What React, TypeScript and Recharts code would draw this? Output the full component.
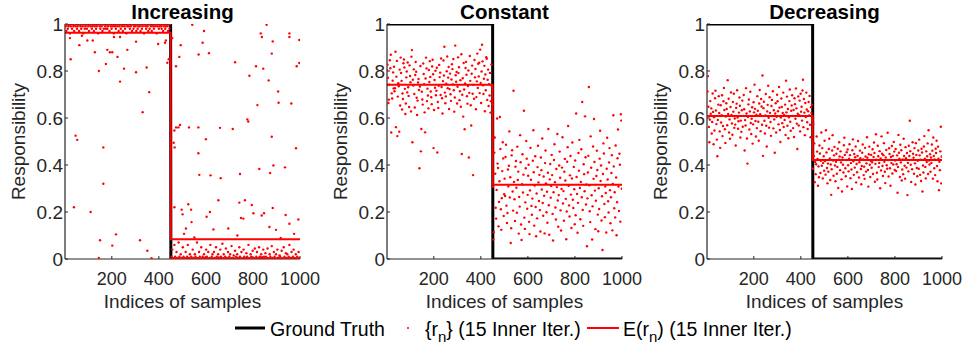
import { ComposedChart, Line, Scatter, XAxis, YAxis } from "recharts";

const xTicks = [200, 400, 600, 800, 1000];
const yTicks = [0, 0.2, 0.4, 0.6, 0.8, 1];
const panelTitles = ["Increasing", "Constant", "Decreasing"];
const lastSampleOfFirstSegment = 450;
const groundTruthLevels = [1, 0];

// E(r_n) level of each segment
const increasingMeans = [0.963, 0.084];
const constantMeans = [0.742, 0.316];
const decreasingMeans = [0.608, 0.421];

// Increasing: dense bands, one value for every 3rd sample (x = 1, 4, 7 ... / 451, 454 ...)
const increasingBefore = [
  1, 0.99, 0.97, 1, 0.98, 0.99, 1, 0.96, 0.99, 1, 0.98, 1, 0.99, 0.97, 1,
  0.99, 1, 0.98, 0.99, 1, 0.97, 1, 0.99, 0.98, 1, 0.99, 0.96, 1, 0.98, 0.99,
  1, 0.98, 1, 0.99, 0.97, 1, 0.99, 1, 0.98, 0.99, 1, 0.97, 0.99, 1, 0.98,
  0.99, 1, 0.96, 1, 0.99, 0.98, 1, 0.99, 0.97, 1, 0.98, 1, 0.99, 0.98, 1,
  0.98, 0.99, 1, 0.97, 1, 0.99, 0.98, 1, 0.99, 0.96, 1, 0.99, 0.98, 1, 0.99,
  1, 0.97, 0.99, 1, 0.98, 1, 0.99, 0.97, 1, 0.99, 0.98, 1, 0.96, 0.99, 1,
  0.99, 1, 0.98, 0.99, 1, 0.97, 1, 0.98, 0.99, 1, 0.99, 0.97, 1, 0.98, 0.99,
  1, 0.99, 0.97, 1, 0.98, 0.99, 1, 0.96, 1, 0.99, 0.98, 1, 0.99, 0.97, 1,
  0.98, 1, 0.99, 0.97, 1, 0.99, 0.98, 1, 0.99, 1, 0.96, 0.99, 1, 0.98, 0.99,
  1, 0.99, 0.98, 1, 0.97, 0.99, 1, 0.98, 0.99, 1, 0.99, 0.97, 1, 0.98, 1,
];
const increasingAfter = [
  0, 0.01, 0.04, 0, 0.002, 0.06, 0.01, 0, 0.03, 0.005, 0, 0.07, 0.01, 0, 0.02,
  0.005, 0, 0.05, 0.01, 0, 0.003, 0.03, 0, 0.01, 0.06, 0, 0.004, 0.02, 0, 0.01,
  0, 0.04, 0.005, 0, 0.02, 0.01, 0, 0.07, 0.003, 0, 0.03, 0.01, 0, 0.05, 0.002,
  0.01, 0, 0.02, 0.006, 0, 0.04, 0.01, 0, 0.03, 0, 0.005, 0.06, 0, 0.01, 0.02,
  0, 0.03, 0.004, 0, 0.05, 0.01, 0, 0.02, 0.007, 0, 0.04, 0.01, 0, 0.065, 0.003,
  0.02, 0, 0.01, 0.045, 0, 0.005, 0.03, 0, 0.01, 0.02, 0, 0.055, 0.004, 0, 0.015,
  0, 0.035, 0.01, 0, 0.02, 0.006, 0, 0.05, 0.01, 0, 0.03, 0.002, 0, 0.04, 0.01,
  0.005, 0, 0.025, 0.01, 0, 0.06, 0.003, 0, 0.02, 0.01, 0, 0.035, 0.005, 0, 0.045,
  0, 0.01, 0.03, 0, 0.004, 0.05, 0.01, 0, 0.02, 0.008, 0, 0.04, 0.01, 0, 0.025,
  0.01, 0, 0.045, 0.003, 0, 0.02, 0.01, 0, 0.055, 0.005, 0, 0.03, 0.01, 0, 0.02,
  0, 0.04, 0.006, 0, 0.015, 0.01, 0, 0.035, 0.002, 0, 0.05, 0.01, 0, 0.025, 0.004,
  0.02, 0, 0.01, 0.06, 0, 0.005, 0.03, 0, 0.01, 0.04, 0, 0.003, 0.02, 0, 0.01,
  0, 0.03, 0.005,
];
// Increasing: scattered samples away from the bands, [sample, r_n]
const increasingStrays: [number, number][] = [
  [22, 0.94], [25, 0.85], [39, 0.22], [46, 0.525], [53, 0.507], [62, 0.91], [73, 0.95],
  [96, 0.93], [110, 0.2], [119, 0.93], [128, 0.88], [145, 0.8], [145, 0.005], [150, 0.08],
  [164, 0.475], [164, 0.32], [175, 0.83], [181, 0.89], [192, 0.88], [202, 0.88], [202, 0.057],
  [209, 0.945], [218, 0.105], [224, 0.86], [235, 0.755], [235, 0.945], [252, 0.81], [266, 0.89],
  [303, 0.795], [303, 0.925], [320, 0.08], [331, 0.625], [348, 0.815], [351, 0.035], [359, 0.71],
  [369, 0.003], [397, 0.915], [426, 0.92], [430, 0.93], [436, 0.835], [442, 0.85],
  [457, 0.94], [463, 0.495], [466, 0.547], [466, 0.22], [467, 0.475], [473, 0.56], [473, 0.82],
  [483, 0.56], [487, 0.86], [490, 0.57], [493, 0.91], [497, 0.21], [501, 0.19], [507, 0.107],
  [515, 0.13], [525, 0.233], [528, 0.56], [537, 0.21], [539, 0.157], [542, 0.997], [551, 0.092],
  [568, 0.56], [568, 0.45], [569, 0.87], [572, 0.358], [586, 0.92], [592, 0.97], [600, 0.51],
  [603, 0.18], [613, 0.876], [617, 0.2], [620, 0.356], [632, 0.126], [653, 0.25], [660, 0.558],
  [663, 0.344], [695, 0.13], [714, 0.553], [724, 0.837], [734, 0.1], [742, 0.24], [745, 0.362],
  [749, 0.175], [759, 0.172], [766, 0.25], [776, 0.594], [780, 0.585], [785, 0.78], [795, 0.23],
  [802, 0.195], [813, 0.82], [819, 0.655], [827, 0.383], [833, 0.96], [837, 0.185], [838, 0.945],
  [844, 0.81], [847, 0.195], [858, 0.997], [867, 0.76], [870, 0.136], [873, 0.366], [880, 0.52],
  [880, 0.874], [884, 0.926], [884, 0.217], [887, 0.398], [898, 0.124], [907, 0.713], [909, 0.665],
  [918, 0.09], [936, 0.39], [939, 0.187], [955, 0.96], [955, 0.945], [955, 0.15], [963, 0.662],
  [975, 0.107], [983, 0.471], [986, 0.82], [993, 0.168], [997, 0.932], [997, 0.834],
];

// Constant: every 2nd sample (x = 1, 3 ... 449 / 451, 453 ... 999)
const constantBefore = [
  0.803, 0.827, 0.771, 0.664, 0.678, 0.742, 0.846, 0.812, 0.869, 0.538, 0.705, 0.683, 0.759, 0.794, 0.726,
  0.818, 0.714, 0.727, 0.882, 0.561, 0.776, 0.843, 0.523, 0.691, 0.748, 0.735, 0.542, 0.806, 0.653, 0.857,
  0.792, 0.758, 0.636, 0.704, 0.681, 0.833, 0.849, 0.815, 0.724, 0.617, 0.662, 0.773, 0.798, 0.709, 0.836,
  0.731, 0.694, 0.647, 0.824, 0.779, 0.752, 0.628, 0.861, 0.889, 0.497, 0.763, 0.738, 0.807, 0.702, 0.645,
  0.783, 0.838, 0.797, 0.686, 0.613, 0.674, 0.751, 0.766, 0.719, 0.386, 0.734, 0.821, 0.458, 0.553, 0.712,
  0.679, 0.657, 0.832, 0.787, 0.744, 0.624, 0.539, 0.768, 0.857, 0.811, 0.672, 0.725, 0.696, 0.641, 0.804,
  0.753, 0.842, 0.775, 0.713, 0.688, 0.659, 0.819, 0.848, 0.786, 0.472, 0.634, 0.762, 0.729, 0.801, 0.697,
  0.716, 0.814, 0.453, 0.668, 0.643, 0.737, 0.826, 0.774, 0.793, 0.698, 0.853, 0.732, 0.684, 0.619, 0.757,
  0.845, 0.781, 0.903, 0.708, 0.663, 0.692, 0.746, 0.799, 0.862, 0.727, 0.772, 0.817, 0.638, 0.723, 0.789,
  0.701, 0.673, 0.764, 0.829, 0.808, 0.743, 0.851, 0.718, 0.627, 0.687, 0.908, 0.782, 0.754, 0.796, 0.662,
  0.733, 0.858, 0.791, 0.816, 0.676, 0.714, 0.761, 0.648, 0.871, 0.447, 0.699, 0.769, 0.606, 0.834, 0.721,
  0.552, 0.747, 0.813, 0.839, 0.784, 0.693, 0.661, 0.736, 0.802, 0.432, 0.707, 0.864, 0.758, 0.654, 0.568,
  0.788, 0.823, 0.703, 0.357, 0.741, 0.682, 0.847, 0.773, 0.809, 0.637, 0.689, 0.756, 0.874, 0.728, 0.831,
  0.777, 0.835, 0.706, 0.891, 0.749, 0.664, 0.798, 0.912, 0.841, 0.739, 0.702, 0.767, 0.822, 0.629, 0.785,
  0.718, 0.859, 0.852, 0.677, 0.763, 0.806, 0.651, 0.744, 0.696, 0.792, 0.623, 0.671, 0.828, 0.734, 0.658,
];
const constantAfter = [
  0.307, 0.083, 0.114, 0.452, 0.517, 0.363, 0.218, 0.172, 0.294, 0.598, 0.406, 0.387, 0.139, 0.243, 0.331, 0.604, 0.468, 0.212, 0.124, 0.259, 0.374, 0.497, 0.428, 0.183, 0.276,
  0.342, 0.268, 0.434, 0.486, 0.227, 0.153, 0.196, 0.381, 0.309, 0.397, 0.543, 0.262, 0.348, 0.068, 0.131, 0.441, 0.463, 0.287, 0.206, 0.716, 0.328, 0.254, 0.162, 0.393, 0.417,
  0.303, 0.197, 0.478, 0.336, 0.372, 0.108, 0.264, 0.223, 0.527, 0.412, 0.147, 0.081, 0.318, 0.446, 0.283, 0.359, 0.631, 0.176, 0.128, 0.241, 0.386, 0.502, 0.427, 0.214, 0.273,
  0.354, 0.401, 0.158, 0.106, 0.292, 0.473, 0.337, 0.226, 0.188, 0.257, 0.418, 0.548, 0.369, 0.142, 0.313, 0.437, 0.221, 0.097, 0.279, 0.173, 0.391, 0.482, 0.326, 0.247, 0.358,
  0.208, 0.117, 0.432, 0.378, 0.296, 0.513, 0.238, 0.184, 0.351, 0.269, 0.109, 0.408, 0.462, 0.322, 0.199, 0.286, 0.154, 0.367, 0.553, 0.229, 0.103, 0.339, 0.404, 0.261, 0.311,
  0.443, 0.357, 0.192, 0.079, 0.284, 0.421, 0.488, 0.327, 0.219, 0.168, 0.383, 0.306, 0.532, 0.249, 0.137, 0.272, 0.398, 0.457, 0.346, 0.207, 0.121, 0.298, 0.389, 0.518, 0.236,
  0.289, 0.163, 0.371, 0.426, 0.334, 0.256, 0.084, 0.202, 0.414, 0.476, 0.566, 0.312, 0.228, 0.181, 0.356, 0.438, 0.274, 0.132, 0.343, 0.496, 0.252, 0.217, 0.392, 0.297, 0.148,
  0.419, 0.186, 0.619, 0.349, 0.277, 0.112, 0.239, 0.451, 0.376, 0.507, 0.302, 0.169, 0.328, 0.467, 0.263, 0.668, 0.209, 0.141, 0.403, 0.361, 0.288, 0.607, 0.433, 0.232, 0.317,
  0.054, 0.258, 0.368, 0.439, 0.732, 0.314, 0.203, 0.157, 0.522, 0.388, 0.271, 0.083, 0.224, 0.479, 0.341, 0.596, 0.413, 0.291, 0.127, 0.248, 0.353, 0.461, 0.379, 0.189, 0.118,
  0.301, 0.213, 0.427, 0.546, 0.332, 0.398, 0.164, 0.267, 0.038, 0.362, 0.492, 0.449, 0.234, 0.178, 0.309, 0.281, 0.113, 0.384, 0.516, 0.338, 0.246, 0.198, 0.411, 0.472, 0.293,
  0.152, 0.263, 0.366, 0.442, 0.122, 0.319, 0.612, 0.394, 0.216, 0.284, 0.177, 0.483, 0.347, 0.101, 0.242, 0.429, 0.551, 0.308, 0.204, 0.448, 0.401, 0.159, 0.616, 0.589, 0.299,
];

// Decreasing: every 2nd sample (x = 1, 3 ... 449 / 451, 453 ... 999)
const decreasingBefore = [
  0.607, 0.713, 0.778, 0.648, 0.562, 0.497, 0.593, 0.672, 0.618, 0.641, 0.534, 0.583, 0.704, 0.626, 0.488,
  0.603, 0.547, 0.684, 0.716, 0.632, 0.574, 0.508, 0.437, 0.592, 0.657, 0.693, 0.621, 0.543, 0.473, 0.654,
  0.581, 0.612, 0.697, 0.523, 0.566, 0.671, 0.728, 0.634, 0.552, 0.494, 0.606, 0.663, 0.638, 0.569, 0.761,
  0.617, 0.682, 0.538, 0.594, 0.512, 0.647, 0.709, 0.613, 0.577, 0.529, 0.668, 0.627, 0.703, 0.558, 0.598,
  0.572, 0.483, 0.643, 0.661, 0.718, 0.602, 0.554, 0.586, 0.623, 0.687, 0.652, 0.517, 0.589, 0.541, 0.633,
  0.674, 0.563, 0.609, 0.698, 0.637, 0.462, 0.591, 0.568, 0.727, 0.619, 0.513, 0.406, 0.604, 0.658, 0.679,
  0.551, 0.628, 0.712, 0.579, 0.532, 0.597, 0.646, 0.491, 0.573, 0.667, 0.624, 0.742, 0.639, 0.587, 0.521,
  0.614, 0.557, 0.693, 0.631, 0.584, 0.503, 0.662, 0.719, 0.616, 0.544, 0.681, 0.649, 0.571, 0.781, 0.439,
  0.642, 0.669, 0.588, 0.534, 0.611, 0.702, 0.567, 0.479, 0.628, 0.656, 0.737, 0.601, 0.559, 0.688, 0.622,
  0.583, 0.524, 0.651, 0.677, 0.608, 0.714, 0.556, 0.633, 0.594, 0.452, 0.619, 0.663, 0.538, 0.605, 0.699,
  0.671, 0.629, 0.573, 0.732, 0.644, 0.549, 0.498, 0.602, 0.683, 0.647, 0.578, 0.621, 0.708, 0.562, 0.613,
  0.592, 0.657, 0.528, 0.759, 0.624, 0.691, 0.567, 0.638, 0.514, 0.603, 0.672, 0.721, 0.584, 0.546, 0.631,
  0.653, 0.697, 0.609, 0.557, 0.634, 0.519, 0.684, 0.659, 0.597, 0.726, 0.641, 0.576, 0.468, 0.618, 0.692,
  0.568, 0.612, 0.674, 0.543, 0.703, 0.627, 0.648, 0.589, 0.717, 0.763, 0.561, 0.681, 0.623, 0.527, 0.664,
  0.604, 0.708, 0.636, 0.582, 0.553, 0.629, 0.668, 0.611, 0.694, 0.571, 0.518, 0.646, 0.622, 0.657, 0.593,
];
const decreasingAfter = [
  0.384, 0.574, 0.438, 0.492, 0.327, 0.413, 0.361, 0.403, 0.521, 0.457, 0.426, 0.312, 0.394, 0.348, 0.483, 0.449, 0.366, 0.418, 0.538, 0.397, 0.472, 0.343, 0.409, 0.437, 0.376,
  0.503, 0.417, 0.359, 0.548, 0.453, 0.387, 0.322, 0.406, 0.371, 0.468, 0.512, 0.428, 0.336, 0.402, 0.273, 0.382, 0.462, 0.527, 0.419, 0.354, 0.441, 0.477, 0.398, 0.331, 0.414,
  0.448, 0.363, 0.392, 0.469, 0.302, 0.423, 0.497, 0.436, 0.378, 0.458, 0.411, 0.339, 0.287, 0.432, 0.401, 0.368, 0.484, 0.516, 0.443, 0.386, 0.352, 0.421, 0.454, 0.309, 0.466,
  0.399, 0.373, 0.427, 0.488, 0.442, 0.344, 0.408, 0.381, 0.298, 0.463, 0.509, 0.416, 0.358, 0.447, 0.389, 0.433, 0.479, 0.326, 0.404, 0.369, 0.439, 0.502, 0.422, 0.347, 0.412,
  0.461, 0.429, 0.383, 0.318, 0.396, 0.452, 0.487, 0.424, 0.357, 0.393, 0.341, 0.473, 0.436, 0.372, 0.407, 0.518, 0.431, 0.379, 0.308, 0.446, 0.478, 0.401, 0.349, 0.418, 0.443,
  0.388, 0.412, 0.467, 0.362, 0.434, 0.496, 0.451, 0.329, 0.405, 0.531, 0.423, 0.367, 0.338, 0.482, 0.437, 0.391, 0.409, 0.459, 0.301, 0.428, 0.377, 0.522, 0.448, 0.396, 0.353,
  0.442, 0.493, 0.414, 0.371, 0.323, 0.432, 0.464, 0.399, 0.384, 0.537, 0.421, 0.351, 0.471, 0.447, 0.386, 0.312, 0.434, 0.408, 0.481, 0.364, 0.439, 0.402, 0.498, 0.457, 0.379,
  0.419, 0.468, 0.374, 0.403, 0.441, 0.282, 0.392, 0.528, 0.452, 0.427, 0.349, 0.486, 0.411, 0.463, 0.334, 0.381, 0.424, 0.361, 0.512, 0.438, 0.397, 0.342, 0.476, 0.429, 0.389,
  0.451, 0.272, 0.409, 0.373, 0.482, 0.438, 0.588, 0.459, 0.401, 0.328, 0.422, 0.382, 0.497, 0.448, 0.431, 0.363, 0.472, 0.407, 0.317, 0.493, 0.443, 0.387, 0.352, 0.418, 0.462,
  0.384, 0.508, 0.441, 0.358, 0.423, 0.332, 0.469, 0.453, 0.287, 0.398, 0.368, 0.479, 0.523, 0.427, 0.392, 0.343, 0.458, 0.413, 0.437, 0.492, 0.362, 0.548, 0.419, 0.402, 0.446,
  0.371, 0.432, 0.409, 0.487, 0.461, 0.342, 0.517, 0.438, 0.386, 0.424, 0.357, 0.469, 0.451, 0.503, 0.396, 0.331, 0.478, 0.427, 0.293, 0.414, 0.378, 0.458, 0.563, 0.322, 0.436,
];

type Pt = { x: number; y: number };

const FONT = '"Liberation Sans", Arial, Helvetica, sans-serif';
const AXIS = "#262626";
const RED = "#ff0000";

// sample index for each value, first sample of the segment + position * stride
function samples(values: number[], first: number, stride: number): Pt[] {
  return values.map((y, i) => ({ x: first + i * stride, y }));
}

function stepLine(levels: number[]): Pt[] {
  return [
    { x: 1, y: levels[0] },
    { x: lastSampleOfFirstSegment, y: levels[0] },
    { x: lastSampleOfFirstSegment + 1, y: levels[1] },
    { x: 1000, y: levels[1] },
  ];
}

const panels = [
  {
    left: 0,
    points: [
      ...samples(increasingBefore, 1, 3),
      ...samples(increasingAfter, 451, 3),
      ...increasingStrays.map(([x, y]) => ({ x, y })),
    ],
    means: increasingMeans,
  },
  {
    left: 322,
    points: [...samples(constantBefore, 1, 2), ...samples(constantAfter, 451, 2)],
    means: constantMeans,
  },
  {
    left: 642,
    points: [...samples(decreasingBefore, 1, 2), ...samples(decreasingAfter, 451, 2)],
    means: decreasingMeans,
  },
];

const Y_AXIS_W = 65;
const PLOT_W = 235;

const RedDot = (props: any) => <circle cx={props.cx} cy={props.cy} r={1.2} fill={RED} />;

function Panel({ left, points, means }: { left: number; points: Pt[]; means: number[] }) {
  return (
    <div style={{ position: "absolute", left, top: 0 }}>
      <ComposedChart width={Y_AXIS_W + PLOT_W + 20} height={347} margin={{ top: 24, right: 20, bottom: 0, left: 0 }}>
        <XAxis
          type="number"
          dataKey="x"
          domain={[1, 1000]}
          allowDataOverflow
          ticks={xTicks}
          height={88}
          tickSize={-3}
          tickMargin={16}
          axisLine={{ stroke: AXIS, strokeWidth: 1.2 }}
          tickLine={{ stroke: AXIS }}
          tick={{ fontSize: 18, fill: AXIS }}
          label={{ value: "Indices of samples", position: "insideBottom", offset: 39, fontSize: 19, fill: AXIS }}
        />
        <YAxis
          type="number"
          dataKey="y"
          domain={[0, 1]}
          allowDataOverflow
          ticks={yTicks}
          width={Y_AXIS_W}
          tickSize={-3}
          tickMargin={5}
          axisLine={{ stroke: AXIS, strokeWidth: 1.2 }}
          tickLine={{ stroke: AXIS }}
          tick={{ fontSize: 19, fill: AXIS }}
          label={{
            value: "Responsibility",
            angle: -90,
            position: "insideLeft",
            offset: 18,
            fontSize: 19,
            fill: AXIS,
            style: { textAnchor: "middle" },
          }}
        />
        <Line
          data={stepLine(groundTruthLevels)}
          dataKey="y"
          type="linear"
          stroke="#000000"
          strokeWidth={3}
          dot={false}
          activeDot={false}
          isAnimationActive={false}
        />
        <Scatter data={points} shape={RedDot} isAnimationActive={false} />
        <Line
          data={stepLine(means)}
          dataKey="y"
          type="linear"
          stroke={RED}
          strokeWidth={2}
          dot={false}
          activeDot={false}
          isAnimationActive={false}
        />
      </ComposedChart>
    </div>
  );
}

export default function App() {
  return (
    <div
      style={{
        position: "absolute",
        left: 0,
        top: 0,
        width: 967,
        height: 347,
        background: "#fff",
        overflow: "hidden",
        fontFamily: FONT,
      }}
    >
      {panels.map((p, i) => (
        <Panel key={panelTitles[i]} left={p.left} points={p.points} means={p.means} />
      ))}
      <svg width={967} height={347} style={{ position: "absolute", left: 0, top: 0, pointerEvents: "none" }}>
        {panels.map((p, i) => (
          <text
            key={panelTitles[i]}
            x={p.left + Y_AXIS_W + PLOT_W / 2}
            y={19}
            textAnchor="middle"
            fontSize={20.5}
            fontWeight="bold"
            fill="#000"
            fontFamily={FONT}
          >
            {panelTitles[i]}
          </text>
        ))}
        <g fontFamily={FONT} fontSize={19.5} fill="#000">
          <line x1={235} x2={265} y1={328} y2={328} stroke="#000" strokeWidth={3} />
          <text x={270} y={336}>Ground Truth</text>
          <circle cx={408} cy={328} r={1} fill={RED} />
          <text x={425} y={336}>
            {"{r"}
            <tspan fontSize={15} dy={6}>n</tspan>
            <tspan dy={-6}>{"} (15 Inner Iter.)"}</tspan>
          </text>
          <line x1={587} x2={619} y1={328} y2={328} stroke={RED} strokeWidth={2} />
          <text x={623} y={336}>
            E(r
            <tspan fontSize={15} dy={6}>n</tspan>
            <tspan dy={-6}>) (15 Inner Iter.)</tspan>
          </text>
        </g>
      </svg>
    </div>
  );
}
